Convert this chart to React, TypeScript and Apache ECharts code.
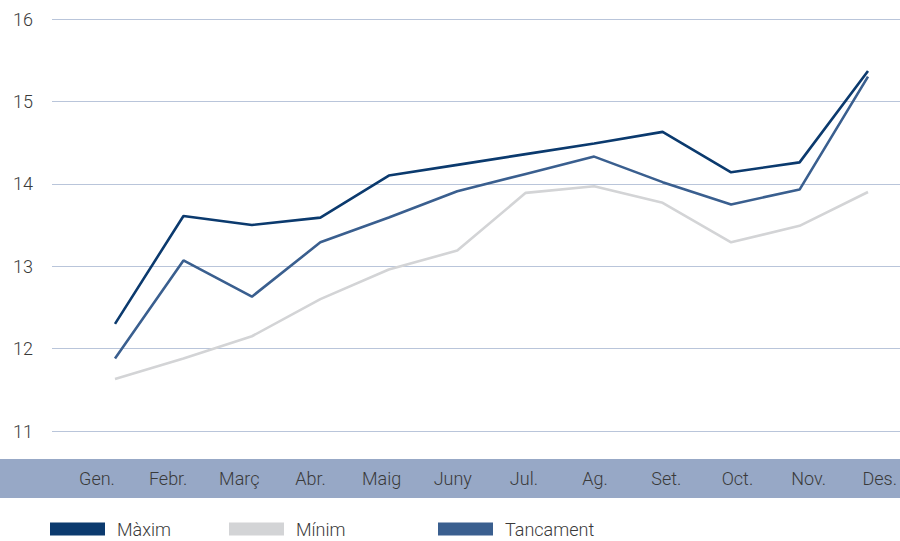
import React, { useEffect, useRef } from "react";
import * as echarts from "echarts";

const months = ["Gen.", "Febr.", "Març", "Abr.", "Maig", "Juny", "Jul.", "Ag.", "Set.", "Oct.", "Nov.", "Des."];
const maxim = [12.3, 13.61, 13.5, 13.59, 14.1, 14.23, 14.36, 14.49, 14.63, 14.14, 14.26, 15.37];
const minim = [11.63, 11.88, 12.15, 12.6, 12.96, 13.19, 13.89, 13.97, 13.77, 13.29, 13.49, 13.9];
const tancament = [11.88, 13.07, 12.63, 13.29, 13.59, 13.91, 14.12, 14.33, 14.02, 13.75, 13.93, 15.3];
const seriesNames = ["Màxim", "Mínim", "Tancament"];
const colors = ["#0b3a6e", "#d3d4d6", "#3a5f8f"];

const FONT = "Roboto";
const TEXT_COLOR = "#3a3a3a";
const FONT_SIZE = 18;

export default function App() {
  const ref = useRef<HTMLDivElement>(null);
  useEffect(() => {
    if (!ref.current) return;
    const chart = echarts.init(ref.current, undefined, { renderer: "svg" });
    const legendLefts = [50, 229, 438];
    chart.setOption({
      animation: false,
      backgroundColor: "#ffffff",
      textStyle: { fontFamily: FONT },
      graphic: [
        {
          type: "rect",
          z: -1,
          shape: { x: 0, y: 459, width: 900, height: 39 },
          style: { fill: "#97a8c6" },
          silent: true,
        },
      ],
      legend: seriesNames.map((n, i) => ({
        data: [n],
        left: legendLefts[i],
        top: 520,
        padding: 0,
        icon: "rect",
        itemWidth: 55,
        itemHeight: 13,
        textStyle: {
          fontFamily: FONT,
          fontWeight: 300,
          fontSize: FONT_SIZE,
          color: TEXT_COLOR,
          padding: [0, 0, 0, 7],
        },
      })),
      grid: [
        { left: 52, right: 0, top: 19, bottom: 110 },
        { left: 115, right: 32, top: 19, bottom: 110 },
        { left: 97, right: 20, top: 440, height: 19 },
      ],
      xAxis: [
        { gridIndex: 0, type: "category", data: months, show: false },
        { gridIndex: 1, type: "category", data: months, boundaryGap: false, show: false },
        {
          gridIndex: 2,
          type: "category",
          data: months,
          boundaryGap: false,
          axisLine: { show: false },
          axisTick: { show: false },
          axisLabel: {
            margin: 10,
            fontFamily: FONT,
            fontWeight: 300,
            fontSize: FONT_SIZE,
            color: TEXT_COLOR,
            interval: 0,
          },
        },
      ],
      yAxis: [
        {
          gridIndex: 0,
          type: "value",
          min: 11,
          max: 16,
          interval: 1,
          axisLine: { show: false },
          axisTick: { show: false },
          axisLabel: {
            margin: 19,
            fontFamily: FONT,
            fontWeight: 300,
            fontSize: FONT_SIZE,
            color: TEXT_COLOR,
          },
          splitLine: { show: true, lineStyle: { color: "#b9c5da", width: 1 } },
        },
        { gridIndex: 1, type: "value", min: 11, max: 16, show: false, splitLine: { show: false } },
        { gridIndex: 2, type: "value", show: false, splitLine: { show: false } },
      ],
      series: [maxim, minim, tancament].map((d, i) => ({
        name: seriesNames[i],
        type: "line",
        xAxisIndex: 1,
        yAxisIndex: 1,
        data: d,
        symbol: "none",
        color: colors[i],
        lineStyle: { color: colors[i], width: 2.6 },
        z: i === 1 ? 1 : 2 + i,
      })),
    });
    return () => chart.dispose();
  }, []);
  return (
    <div
      ref={ref}
      style={{ position: "fixed", left: 0, top: 0, width: 900, height: 541 }}
    />
  );
}
